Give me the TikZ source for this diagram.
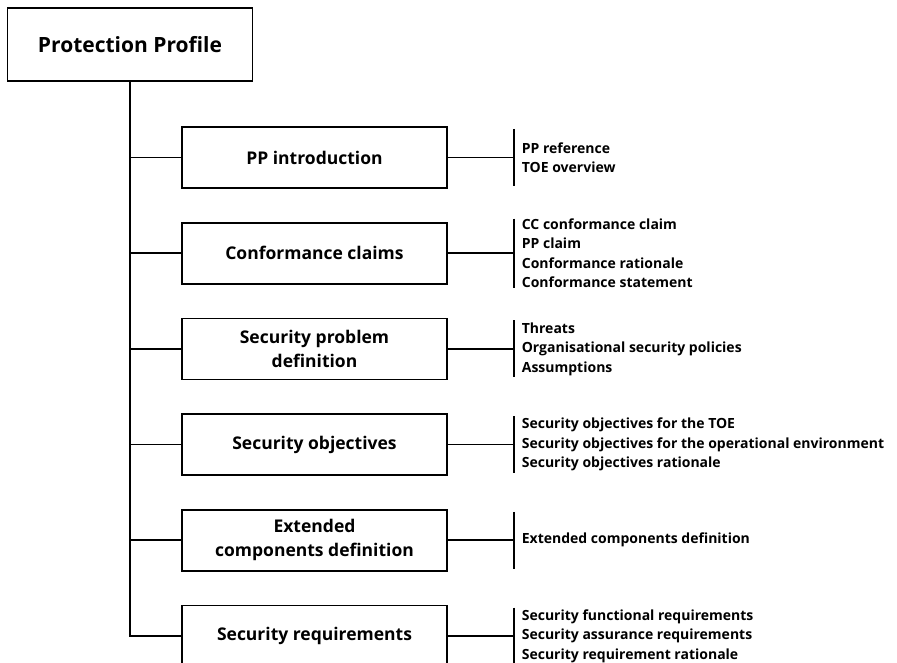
\documentclass[tikz,border=0pt]{standalone}
\usepackage{fontspec}
\setmainfont{Open Sans}
\usetikzlibrary{positioning}

\begin{document}
\begin{tikzpicture}[x=1pt,y=-1pt,line width=1.7pt,
  part/.style={draw,minimum width=265pt,minimum height=61pt,align=center,
    font=\fontsize{17.5}{24}\selectfont\bfseries},
  items/.style={minimum height=57pt,inner xsep=8pt,inner ysep=0pt,outer sep=0pt,
    align=left,font=\fontsize{14}{19.5}\selectfont\bfseries}]
\useasboundingbox (0,0) rectangle (897,663);
\clip (0,0) rectangle (897,663);

\node[draw,minimum width=245pt,minimum height=73pt,
  font=\fontsize{21}{25}\selectfont\bfseries] (pp) at (130,44.5) {Protection Profile};

\node[part] (intro) at (314.5,157.5) {PP introduction};
\node[part,below=33pt of intro]  (claims) {Conformance claims};
\node[part,below=33pt of claims] (spd)    {Security problem\\definition};
\node[part,below=33pt of spd]    (obj)    {Security objectives};
\node[part,below=33pt of obj]    (ext)    {Extended\\components definition};
\node[part,below=33pt of ext]    (req)    {Security requirements};

\node[items,right=66pt of intro]  (intro-l)  {PP reference\\TOE overview};
\node[items,right=66pt of claims] (claims-l) {CC conformance claim\\PP claim\\
  Conformance rationale\\Conformance statement};
\node[items,right=66pt of spd]    (spd-l)    {Threats\\Organisational security policies\\
  Assumptions};
\node[items,right=66pt of obj]    (obj-l)    {Security objectives for the TOE\\
  Security objectives for the operational environment\\Security objectives rationale};
\node[items,right=66pt of ext]    (ext-l)    {Extended components definition};
\node[items,right=66pt of req]    (req-l)    {Security functional requirements\\
  Security assurance requirements\\Security requirement rationale};

% trunk and branches
\path[draw]
(pp.south) |- (req.west)
(intro.west)  -- (intro.west -| pp.south)
(claims.west) -- (claims.west -| pp.south)
(spd.west)    -- (spd.west -| pp.south)
(obj.west)    -- (obj.west -| pp.south)
(ext.west)    -- (ext.west -| pp.south)
;

% brackets
\path[draw]
(intro.east)  -- (intro-l.west)  (intro-l.north west)  -- (intro-l.south west)
(claims.east) -- (claims-l.west) (claims-l.north west) -- (claims-l.south west)
(spd.east)    -- (spd-l.west)    (spd-l.north west)    -- (spd-l.south west)
(obj.east)    -- (obj-l.west)    (obj-l.north west)    -- (obj-l.south west)
(ext.east)    -- (ext-l.west)    (ext-l.north west)    -- (ext-l.south west)
(req.east)    -- (req-l.west)    (req-l.north west)    -- (req-l.south west)
;
\end{tikzpicture}
\end{document}
